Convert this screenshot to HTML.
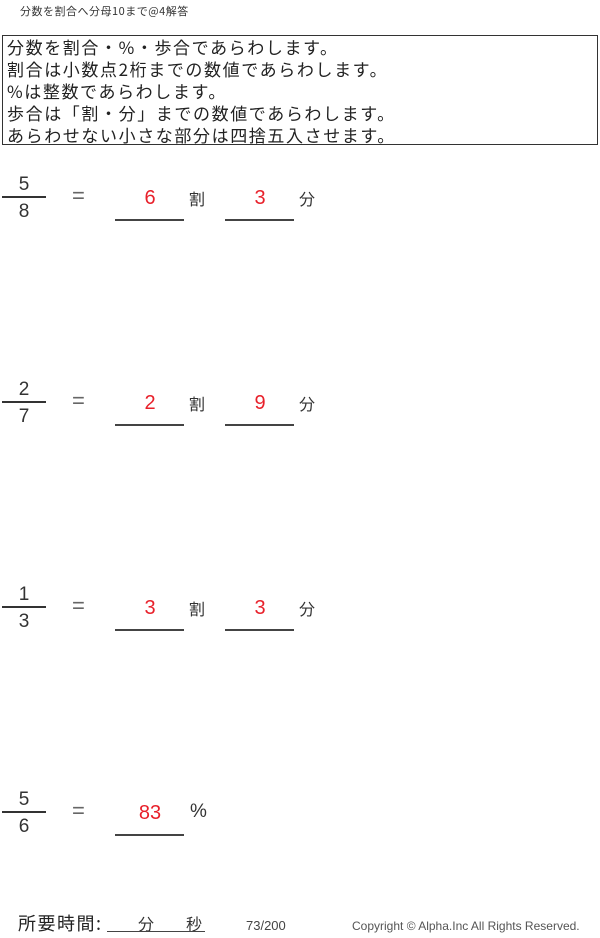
<!DOCTYPE html>
<html><head><meta charset="utf-8"><style>
body{margin:0;width:600px;height:938px;background:#fff;position:relative;font-family:"Liberation Sans","Noto Sans CJK JP",sans-serif;color:#333;overflow:hidden}
.a{position:absolute;white-space:nowrap}
.box{position:absolute;left:2px;top:35px;width:594px;height:108px;border:1px solid #333}
.box div{font-size:17px;line-height:22px;padding-left:4px;letter-spacing:1.6px;font-family:"Noto Sans CJK JP",sans-serif;color:#222}
.n{font-size:19px;width:44px;text-align:center;left:2px}
.fl{position:absolute;left:2px;width:44px;height:1.5px;background:#333}
.eq{font-size:22px;color:#666;left:72px}
.r{color:#e8202a;font-size:20px;text-align:center;width:70px}
.u{position:absolute;height:1.5px;background:#444;width:69px}
.k{font-size:16px;font-family:"Noto Sans CJK JP",sans-serif}
</style></head><body>
<div class="a" style="left:20px;top:3px;font-size:11px;letter-spacing:0.5px;font-family:'Noto Sans CJK JP',sans-serif">分数を割合へ分母10まで@4解答</div>
<div class="box">
<div>分数を割合・%・歩合であらわします。</div>
<div>割合は小数点2桁までの数値であらわします。</div>
<div>%は整数であらわします。</div>
<div>歩合は「割・分」までの数値であらわします。</div>
<div>あらわせない小さな部分は四捨五入させます。</div>
</div>

<div class="a n" style="top:174px">5</div><div class="fl" style="top:196px"></div><div class="a n" style="top:201px">8</div>
<div class="a eq" style="top:183px">=</div>
<div class="a r" style="left:115px;top:187px">6</div><div class="u" style="left:115px;top:219px"></div>
<div class="a k" style="left:189px;top:186px">割</div>
<div class="a r" style="left:225px;top:187px">3</div><div class="u" style="left:225px;top:219px"></div>
<div class="a k" style="left:299px;top:186px">分</div>

<div class="a n" style="top:379px">2</div><div class="fl" style="top:401px"></div><div class="a n" style="top:406px">7</div>
<div class="a eq" style="top:388px">=</div>
<div class="a r" style="left:115px;top:392px">2</div><div class="u" style="left:115px;top:424px"></div>
<div class="a k" style="left:189px;top:391px">割</div>
<div class="a r" style="left:225px;top:392px">9</div><div class="u" style="left:225px;top:424px"></div>
<div class="a k" style="left:299px;top:391px">分</div>

<div class="a n" style="top:584px">1</div><div class="fl" style="top:606px"></div><div class="a n" style="top:611px">3</div>
<div class="a eq" style="top:593px">=</div>
<div class="a r" style="left:115px;top:597px">3</div><div class="u" style="left:115px;top:629px"></div>
<div class="a k" style="left:189px;top:596px">割</div>
<div class="a r" style="left:225px;top:597px">3</div><div class="u" style="left:225px;top:629px"></div>
<div class="a k" style="left:299px;top:596px">分</div>

<div class="a n" style="top:789px">5</div><div class="fl" style="top:811px"></div><div class="a n" style="top:816px">6</div>
<div class="a eq" style="top:798px">=</div>
<div class="a r" style="left:115px;top:802px">83</div><div class="u" style="left:115px;top:834px"></div>
<div class="a" style="left:190px;top:801px;font-size:19px">%</div>

<div class="a" style="left:18px;top:910px;font-size:18px;letter-spacing:1.5px;font-family:'Noto Sans CJK JP',sans-serif;color:#222">所要時間:</div>
<div class="a" style="left:138px;top:911px;font-size:16px;font-family:'Noto Sans CJK JP',sans-serif">分</div>
<div class="a" style="left:186px;top:911px;font-size:16px;font-family:'Noto Sans CJK JP',sans-serif">秒</div>
<div class="u" style="left:107px;top:931px;width:98px;height:1px"></div>
<div class="a" style="left:246px;top:918px;font-size:13px;color:#444">73/200</div>
<div class="a" style="left:352px;top:919px;font-size:12px;color:#555">Copyright ©  Alpha.Inc All Rights Reserved.</div>
</body></html>
